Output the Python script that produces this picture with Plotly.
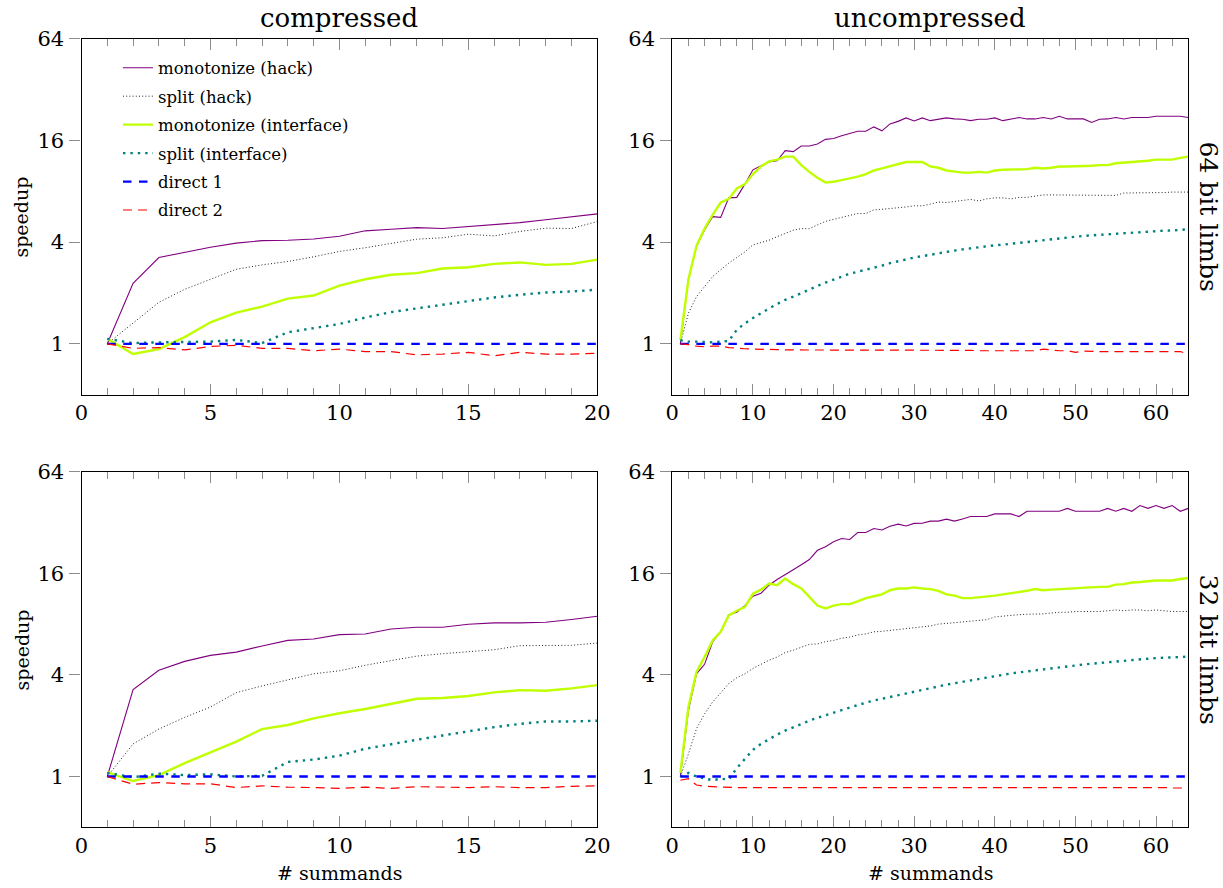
import math
import plotly.graph_objects as go

# ---------------- data ----------------
x_comp = list(range(1, 21))
x_unc = list(range(1, 65))

series_names = ["monotonize (hack)", "split (hack)", "monotonize (interface)",
                "split (interface)", "direct 1", "direct 2"]

# compressed, 64 bit limbs
c64_mono_hack = [1.0, 2.28, 3.24, 3.48, 3.73, 3.94, 4.08, 4.10, 4.17, 4.33, 4.66, 4.76, 4.87, 4.81, 4.94, 5.06, 5.21, 5.42, 5.66, 5.87]
c64_split_hack = [1.0, 1.32, 1.76, 2.10, 2.41, 2.76, 2.93, 3.07, 3.27, 3.52, 3.70, 3.94, 4.16, 4.24, 4.45, 4.35, 4.62, 4.83, 4.81, 5.29]
c64_mono_intf = [1.07, 0.87, 0.93, 1.095, 1.34, 1.53, 1.66, 1.85, 1.93, 2.21, 2.41, 2.56, 2.62, 2.79, 2.84, 2.97, 3.03, 2.93, 2.97, 3.15]
c64_split_intf = [1.07, 1.01, 1.02, 1.03, 1.03, 1.055, 1.01, 1.17, 1.24, 1.31, 1.43, 1.54, 1.62, 1.70, 1.80, 1.88, 1.95, 2.01, 2.04, 2.09]
c64_direct1 = [1.0, 1.0, 1.0, 1.0, 1.0, 1.0, 1.0, 1.0, 1.0, 1.0, 1.0, 1.0, 1.0, 1.0, 1.0, 1.0, 1.0, 1.0, 1.0, 1.0]
c64_direct2 = [1.0, 0.94, 0.95, 0.92, 0.965, 0.98, 0.94, 0.94, 0.91, 0.93, 0.90, 0.90, 0.86, 0.87, 0.89, 0.85, 0.89, 0.87, 0.87, 0.88]

# compressed, 32 bit limbs
c32_mono_hack = [1.0, 3.27, 4.26, 4.81, 5.22, 5.46, 5.94, 6.41, 6.53, 6.93, 6.99, 7.48, 7.66, 7.66, 7.99, 8.14, 8.14, 8.20, 8.51, 8.9]
c32_split_hack = [1.0, 1.56, 1.91, 2.24, 2.58, 3.14, 3.44, 3.75, 4.06, 4.23, 4.56, 4.86, 5.17, 5.34, 5.51, 5.64, 5.96, 5.99, 5.99, 6.18]
c32_mono_intf = [1.06, 0.94, 1.02, 1.2, 1.39, 1.61, 1.91, 2.02, 2.21, 2.37, 2.51, 2.69, 2.89, 2.92, 3.0, 3.15, 3.25, 3.22, 3.33, 3.48]
c32_split_intf = [1.05, 0.99, 1.04, 1.02, 1.03, 1.0, 1.01, 1.22, 1.26, 1.33, 1.46, 1.56, 1.65, 1.75, 1.86, 1.96, 2.05, 2.12, 2.12, 2.14]
c32_direct1 = [1.0, 1.0, 1.0, 1.0, 1.0, 1.0, 1.0, 1.0, 1.0, 1.0, 1.0, 1.0, 1.0, 1.0, 1.0, 1.0, 1.0, 1.0, 1.0, 1.0]
c32_direct2 = [1.0, 0.90, 0.92, 0.905, 0.905, 0.86, 0.88, 0.865, 0.86, 0.85, 0.865, 0.85, 0.87, 0.865, 0.86, 0.87, 0.86, 0.86, 0.875, 0.88]

# uncompressed, 64 bit limbs
u64_mono_hack = [1.0, 2.42, 3.76, 4.72, 5.65, 5.6, 7.3, 7.35, 8.8, 10.7, 11.3, 11.9, 12.1, 13.9, 13.7, 14.8,
                 14.8, 15.2, 16.2, 16.4, 17.0, 17.6, 18.1, 18.1, 19.2, 18.2, 20.0, 20.7, 21.7, 20.8, 21.7, 20.9,
                 21.3, 21.7, 21.4, 21.3, 20.9, 21.3, 21.3, 21.7, 20.9, 21.3, 21.8, 21.4, 21.4, 21.8, 21.4, 22.2,
                 21.4, 21.4, 21.4, 20.4, 21.3, 21.4, 21.8, 21.4, 21.8, 21.8, 21.8, 22.2, 22.2, 22.2, 22.2, 21.8]
u64_split_hack = [1.0, 1.52, 1.9, 2.18, 2.5, 2.74, 3.0, 3.24, 3.5, 3.85, 3.97, 4.1, 4.3, 4.5, 4.7, 4.8,
                  4.8, 5.05, 5.3, 5.45, 5.6, 5.7, 5.9, 5.9, 6.2, 6.25, 6.3, 6.4, 6.45, 6.55, 6.55, 6.7,
                  6.9, 6.85, 6.95, 7.1, 7.15, 7.0, 7.2, 7.3, 7.3, 7.2, 7.35, 7.35, 7.45, 7.6, 7.6, 7.6,
                  7.6, 7.6, 7.6, 7.6, 7.6, 7.6, 7.55, 7.8, 7.8, 7.8, 7.8, 7.8, 7.85, 7.9, 7.9, 7.9]
u64_mono_intf = [1.05, 2.4, 3.8, 4.8, 5.8, 6.85, 7.2, 8.3, 8.8, 10.1, 11.2, 12.0, 12.3, 12.8, 12.8, 11.4,
                 10.4, 9.6, 9.0, 9.1, 9.3, 9.5, 9.75, 10.1, 10.6, 10.9, 11.2, 11.5, 11.9, 11.9, 11.9, 11.2,
                 11.0, 10.6, 10.4, 10.3, 10.3, 10.4, 10.3, 10.6, 10.7, 10.7, 10.7, 10.8, 11.0, 10.9, 11.0, 11.2,
                 11.2, 11.2, 11.2, 11.3, 11.4, 11.4, 11.7, 11.8, 11.8, 12.0, 12.1, 12.3, 12.3, 12.3, 12.6, 12.8]
u64_split_intf = [1.05, 1.03, 1.03, 1.02, 1.02, 1.03, 1.04, 1.21, 1.32, 1.42, 1.52, 1.62, 1.72, 1.82, 1.9, 2.0,
                  2.1, 2.2, 2.3, 2.4, 2.5, 2.6, 2.67, 2.74, 2.83, 2.9, 3.0, 3.08, 3.17, 3.24, 3.3, 3.37,
                  3.43, 3.5, 3.56, 3.62, 3.68, 3.72, 3.77, 3.83, 3.86, 3.91, 3.95, 4.0, 4.06, 4.12, 4.15, 4.2,
                  4.25, 4.3, 4.35, 4.38, 4.42, 4.46, 4.5, 4.54, 4.56, 4.6, 4.62, 4.65, 4.67, 4.68, 4.7, 4.76]
u64_direct1 = [1.0, 1.0, 1.0, 1.0, 1.0, 1.0, 1.0, 1.0, 1.0, 1.0, 1.0, 1.0, 1.0, 1.0, 1.0, 1.0,
               1.0, 1.0, 1.0, 1.0, 1.0, 1.0, 1.0, 1.0, 1.0, 1.0, 1.0, 1.0, 1.0, 1.0, 1.0, 1.0,
               1.0, 1.0, 1.0, 1.0, 1.0, 1.0, 1.0, 1.0, 1.0, 1.0, 1.0, 1.0, 1.0, 1.0, 1.0, 1.0,
               1.0, 1.0, 1.0, 1.0, 1.0, 1.0, 1.0, 1.0, 1.0, 1.0, 1.0, 1.0, 1.0, 1.0, 1.0, 1.0]
u64_direct2 = [1.0, 0.99, 0.97, 0.96, 0.97, 0.97, 0.95, 0.94, 0.935, 0.93, 0.93, 0.925, 0.925, 0.92, 0.92, 0.92,
               0.915, 0.915, 0.915, 0.915, 0.915, 0.92, 0.92, 0.92, 0.92, 0.915, 0.915, 0.92, 0.92, 0.92, 0.92, 0.92,
               0.92, 0.92, 0.915, 0.915, 0.915, 0.91, 0.91, 0.91, 0.91, 0.91, 0.91, 0.905, 0.91, 0.93, 0.92, 0.91,
               0.91, 0.89, 0.905, 0.9, 0.9, 0.9, 0.9, 0.9, 0.905, 0.905, 0.905, 0.905, 0.905, 0.9, 0.9, 0.87]

# uncompressed, 32 bit limbs
u32_mono_hack = [1.0, 2.46, 4.06, 4.62, 6.27, 7.2, 9.1, 9.4, 10.3, 11.7, 12.2, 13.6, 14.7, 15.8, 16.8, 18.0,
                 19.3, 21.9, 23.0, 24.6, 25.7, 25.4, 27.9, 27.9, 29.5, 28.9, 30.4, 31.3, 30.5, 31.6, 31.7, 32.6,
                 32.6, 33.5, 32.6, 33.6, 34.7, 34.7, 34.7, 36.0, 36.0, 36.0, 34.7, 37.3, 37.3, 37.3, 37.3, 37.3,
                 38.8, 37.3, 37.3, 37.3, 37.3, 38.8, 37.3, 38.8, 37.3, 40.3, 38.8, 40.3, 38.8, 40.3, 37.3, 38.8]
u32_split_hack = [1.0, 1.36, 1.92, 2.35, 2.76, 3.14, 3.55, 3.85, 4.06, 4.37, 4.62, 4.89, 5.1, 5.43, 5.6, 5.8,
                  6.07, 6.1, 6.3, 6.4, 6.6, 6.7, 6.9, 7.0, 7.2, 7.25, 7.35, 7.45, 7.5, 7.6, 7.7, 7.8,
                  8.0, 8.05, 8.15, 8.24, 8.3, 8.4, 8.5, 8.82, 8.94, 9.0, 9.1, 9.15, 9.15, 9.2, 9.3, 9.4,
                  9.4, 9.5, 9.5, 9.5, 9.5, 9.6, 9.7, 9.6, 9.7, 9.7, 9.6, 9.7, 9.6, 9.5, 9.5, 9.5]
u32_mono_intf = [1.05, 2.58, 4.16, 5.1, 6.4, 7.2, 9.0, 9.6, 10.1, 12.1, 12.8, 13.9, 13.6, 14.9, 13.8, 13.0,
                 11.6, 10.3, 9.9, 10.3, 10.5, 10.5, 10.9, 11.4, 11.7, 12.0, 12.7, 13.0, 13.0, 13.2, 13.0, 12.9,
                 12.6, 12.0, 11.8, 11.4, 11.4, 11.5, 11.7, 11.8, 12.0, 12.2, 12.3, 12.6, 12.9, 12.7, 12.8, 12.9,
                 12.9, 13.1, 13.1, 13.3, 13.3, 13.3, 13.7, 13.8, 14.1, 14.2, 14.4, 14.5, 14.5, 14.5, 14.8, 15.0]
u32_split_intf = [1.0, 1.05, 1.0, 0.97, 0.95, 0.97, 0.96, 1.12, 1.28, 1.44, 1.56, 1.67, 1.77, 1.87, 1.96, 2.05,
                  2.14, 2.23, 2.31, 2.40, 2.49, 2.57, 2.66, 2.74, 2.82, 2.89, 2.97, 3.05, 3.12, 3.2, 3.28, 3.35,
                  3.42, 3.5, 3.57, 3.64, 3.72, 3.8, 3.88, 3.96, 4.02, 4.08, 4.14, 4.2, 4.26, 4.32, 4.38, 4.44,
                  4.5, 4.56, 4.61, 4.66, 4.71, 4.77, 4.82, 4.87, 4.91, 4.95, 4.99, 5.03, 5.06, 5.09, 5.11, 5.13]
u32_direct1 = [1.0, 1.0, 1.0, 1.0, 1.0, 1.0, 1.0, 1.0, 1.0, 1.0, 1.0, 1.0, 1.0, 1.0, 1.0, 1.0,
               1.0, 1.0, 1.0, 1.0, 1.0, 1.0, 1.0, 1.0, 1.0, 1.0, 1.0, 1.0, 1.0, 1.0, 1.0, 1.0,
               1.0, 1.0, 1.0, 1.0, 1.0, 1.0, 1.0, 1.0, 1.0, 1.0, 1.0, 1.0, 1.0, 1.0, 1.0, 1.0,
               1.0, 1.0, 1.0, 1.0, 1.0, 1.0, 1.0, 1.0, 1.0, 1.0, 1.0, 1.0, 1.0, 1.0, 1.0, 1.0]
u32_direct2 = [0.95, 0.97, 0.89, 0.875, 0.87, 0.865, 0.865, 0.86, 0.86, 0.86, 0.865, 0.865, 0.86, 0.865, 0.865, 0.86,
               0.86, 0.86, 0.86, 0.86, 0.86, 0.86, 0.86, 0.86, 0.86, 0.86, 0.86, 0.86, 0.86, 0.86, 0.86, 0.86,
               0.86, 0.86, 0.86, 0.86, 0.86, 0.86, 0.86, 0.86, 0.86, 0.86, 0.86, 0.86, 0.86, 0.86, 0.86, 0.86,
               0.86, 0.86, 0.86, 0.86, 0.86, 0.86, 0.86, 0.86, 0.86, 0.86, 0.86, 0.86, 0.86, 0.855, 0.855, 0.855]

y_tick_vals = [1, 4, 16, 64]
y_tick_text = ["1", "4", "16", "64"]
col_titles = ["compressed", "uncompressed"]
row_titles = ["64 bit limbs", "32 bit limbs"]

# ---------------- styles ----------------
styles = [
    dict(color="#800080", width=1.1, dash="solid"),
    dict(color="#222222", width=1.0, dash="1px,2.2px"),
    dict(color="#bfff00", width=2.4, dash="solid"),
    dict(color="#008080", width=2.4, dash="2.4px,5px"),
    dict(color="#0000ff", width=2.3, dash="8.5px,7.5px"),
    dict(color="#ff0000", width=1.2, dash="9px,6px"),
]

W, H = 1223, 888
FONT = "DejaVu Serif"

def px_x(p):
    return p / W

def px_y(p):
    return 1 - p / H

panels = [
    ("x", "y", x_comp, [c64_mono_hack, c64_split_hack, c64_mono_intf, c64_split_intf, c64_direct1, c64_direct2]),
    ("x2", "y2", x_unc, [u64_mono_hack, u64_split_hack, u64_mono_intf, u64_split_intf, u64_direct1, u64_direct2]),
    ("x3", "y3", x_comp, [c32_mono_hack, c32_split_hack, c32_mono_intf, c32_split_intf, c32_direct1, c32_direct2]),
    ("x4", "y4", x_unc, [u32_mono_hack, u32_split_hack, u32_mono_intf, u32_split_intf, u32_direct1, u32_direct2]),
]

fig = go.Figure()
for pi, (xa, ya, xs, ys_list) in enumerate(panels):
    for si, ys in enumerate(ys_list):
        fig.add_trace(go.Scatter(
            x=xs, y=ys, mode="lines", name=series_names[si],
            legendgroup=series_names[si], showlegend=(pi == 0),
            line=dict(**styles[si]), xaxis=xa, yaxis=ya,
        ))

# ---------------- layout ----------------
L_dom = [px_x(81.5), px_x(597.3)]
R_dom = [px_x(672.3), px_x(1188.3)]
T_dom = [px_y(394.7), px_y(38.5)]
B_dom = [px_y(827.3), px_y(471.7)]

tick_gray = "#8c8c8c"

def xaxis(domain, anchor, rng, dtick, minor_dtick):
    return dict(
        domain=domain, anchor=anchor, range=rng, dtick=dtick, tick0=0,
        automargin=False,
        showline=True, linecolor="black", linewidth=1.2, mirror="ticks",
        ticks="inside", ticklen=11, tickwidth=1.2, tickcolor=tick_gray,
        showgrid=False, zeroline=False, ticklabelstandoff=-1,
        tickfont=dict(family=FONT, size=21, color="black"),
        minor=dict(dtick=minor_dtick, tick0=0, ticks="inside", ticklen=7,
                   tickwidth=1.2, tickcolor=tick_gray, showgrid=False),
    )

def yaxis(domain, anchor):
    return dict(
        domain=domain, anchor=anchor, type="log",
        range=[math.log10(0.5), math.log10(64)],
        automargin=False,
        tickvals=y_tick_vals, ticktext=y_tick_text,
        showline=True, linecolor="black", linewidth=1.2, mirror=True,
        ticks="outside", ticklen=11, tickwidth=1.2, tickcolor=tick_gray,
        showgrid=False, zeroline=False, ticklabelstandoff=1,
        tickfont=dict(family=FONT, size=21, color="black"),
    )

annotations = []
def ann(text, x, y, size, angle=0):
    annotations.append(dict(text=text, x=px_x(x), y=px_y(y), xref="paper", yref="paper",
                            showarrow=False, textangle=angle, xanchor="center", yanchor="middle",
                            font=dict(family=FONT, size=size, color="black")))

ann(col_titles[0], 339.4, 18, 26)
ann(col_titles[1], 930.3, 18, 26)
ann(row_titles[0], 1208, 216.6, 25, 90)
ann(row_titles[1], 1208, 649.5, 25, 90)
ann("speedup", 21, 216.6, 19, -90)
ann("speedup", 21, 649.5, 19, -90)
ann("# summands", 339.4, 873, 19)
ann("# summands", 930.3, 873, 19)

fig.update_layout(
    width=W, height=H,
    margin=dict(l=0, r=0, t=0, b=0, autoexpand=False),
    paper_bgcolor="white", plot_bgcolor="white",
    font=dict(family=FONT, color="black"),
    xaxis=xaxis(L_dom, "y", [0, 20], 5, 1),
    yaxis=yaxis(T_dom, "x"),
    xaxis2=xaxis(R_dom, "y2", [0, 64], 10, 2),
    yaxis2=yaxis(T_dom, "x2"),
    xaxis3=xaxis(L_dom, "y3", [0, 20], 5, 1),
    yaxis3=yaxis(B_dom, "x3"),
    xaxis4=xaxis(R_dom, "y4", [0, 64], 10, 2),
    yaxis4=yaxis(B_dom, "x4"),
    legend=dict(x=px_x(118), y=px_y(50.5), xanchor="left", yanchor="top",
                bgcolor="rgba(0,0,0,0)", borderwidth=0,
                font=dict(family=FONT, size=16.5, color="black"),
                tracegroupgap=4, itemwidth=30),
    annotations=annotations,
    showlegend=True,
)

fig.write_html("out.html", config={"displayModeBar": False},
               post_script="document.body.style.margin='0px';")
